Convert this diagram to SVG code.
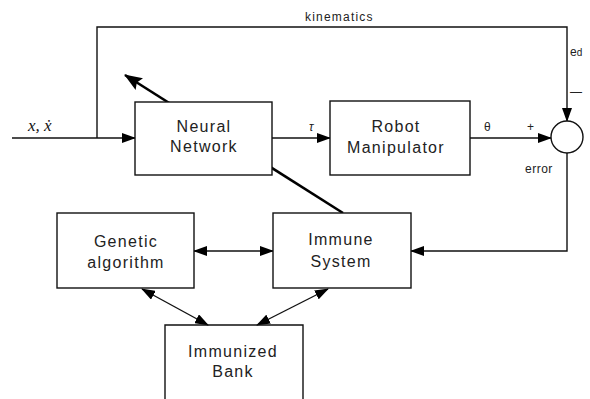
<svg xmlns="http://www.w3.org/2000/svg" width="590" height="399" viewBox="0 0 590 399">
<defs>
<marker id="ah" markerUnits="userSpaceOnUse" markerWidth="14" markerHeight="10" refX="13" refY="5" orient="auto-start-reverse">
<path d="M0,0 L14,5 L0,10 Z" fill="#000"/>
</marker>
<marker id="ahb" markerUnits="userSpaceOnUse" markerWidth="18" markerHeight="14" refX="17" refY="7" orient="auto">
<path d="M0,0 L18,7 L0,14 L3,7 Z" fill="#000"/>
</marker>
</defs>
<style>
.box{fill:#fff;stroke:#111;stroke-width:1.4}
.c{fill:none;stroke:#111;stroke-width:1.4}
.t{font-family:"Liberation Sans",Arial,sans-serif;font-size:16px;letter-spacing:1.3px;fill:#222;text-anchor:middle}
.s{font-family:"Liberation Sans",Arial,sans-serif;font-size:12px;fill:#222}
</style>
<rect width="590" height="399" fill="#fff"/>
<g id="connectors">
<path class="c" d="M12,138 H135" marker-end="url(#ah)"/>
<path class="c" d="M97,138 V27 H567 V121" marker-end="url(#ah)"/>
<path class="c" d="M272,138 H330" marker-end="url(#ah)"/>
<path class="c" d="M470,138 H551" marker-end="url(#ah)"/>
<path class="c" d="M567,153 V251 H411" marker-end="url(#ah)"/>
<path class="c" d="M194,251 H273" marker-start="url(#ah)" marker-end="url(#ah)"/>
<path class="c" d="M142,289 L208,325" marker-start="url(#ah)" marker-end="url(#ah)"/>
<path class="c" d="M328,289 L257,325" marker-start="url(#ah)" marker-end="url(#ah)"/>
<path d="M343,213 L125,75" fill="none" stroke="#000" stroke-width="2.6" marker-end="url(#ahb)"/>
</g>
<g id="neural-network">
<rect class="box" x="135" y="102" width="137" height="73"/>
<text class="t" x="204" y="132">Neural</text>
<text class="t" x="204" y="152">Network</text>
</g>
<g id="robot-manipulator">
<rect class="box" x="330" y="101" width="140" height="74"/>
<text class="t" x="396" y="132">Robot</text>
<text class="t" x="396" y="153">Manipulator</text>
</g>
<g id="summing-junction">
<circle cx="567" cy="137" r="16" fill="#fff" stroke="#111" stroke-width="1.4"/>
</g>
<g id="genetic-algorithm">
<rect class="box" x="57" y="213" width="137" height="75"/>
<text class="t" x="126" y="247">Genetic</text>
<text class="t" x="126" y="268">algorithm</text>
</g>
<g id="immune-system">
<rect class="box" x="273" y="213" width="138" height="75"/>
<text class="t" x="341" y="245">Immune</text>
<text class="t" x="341" y="267">System</text>
</g>
<g id="immunized-bank">
<path class="c" d="M165,400 V325 H303 V400"/>
<text class="t" x="233" y="357">Immunized</text>
<text class="t" x="233" y="377">Bank</text>
</g>
<g id="labels">
<text x="28" y="131" font-family="'Liberation Serif',serif" font-style="italic" font-size="17" fill="#111">x, ẋ</text>
<text class="s" x="305" y="21" font-size="13" letter-spacing="1.2">kinematics</text>
<text class="s" x="309" y="131" font-style="italic" font-size="13">τ</text>
<text class="s" x="484" y="131" font-size="13">θ</text>
<text class="s" x="527" y="131" font-size="11">+</text>
<text class="s" x="570" y="56" font-size="13">e<tspan font-size="10">d</tspan></text>
<text class="s" x="570" y="96" font-size="12">—</text>
<text class="s" x="525" y="173" font-size="12" letter-spacing="0.5">error</text>
</g>
</svg>
